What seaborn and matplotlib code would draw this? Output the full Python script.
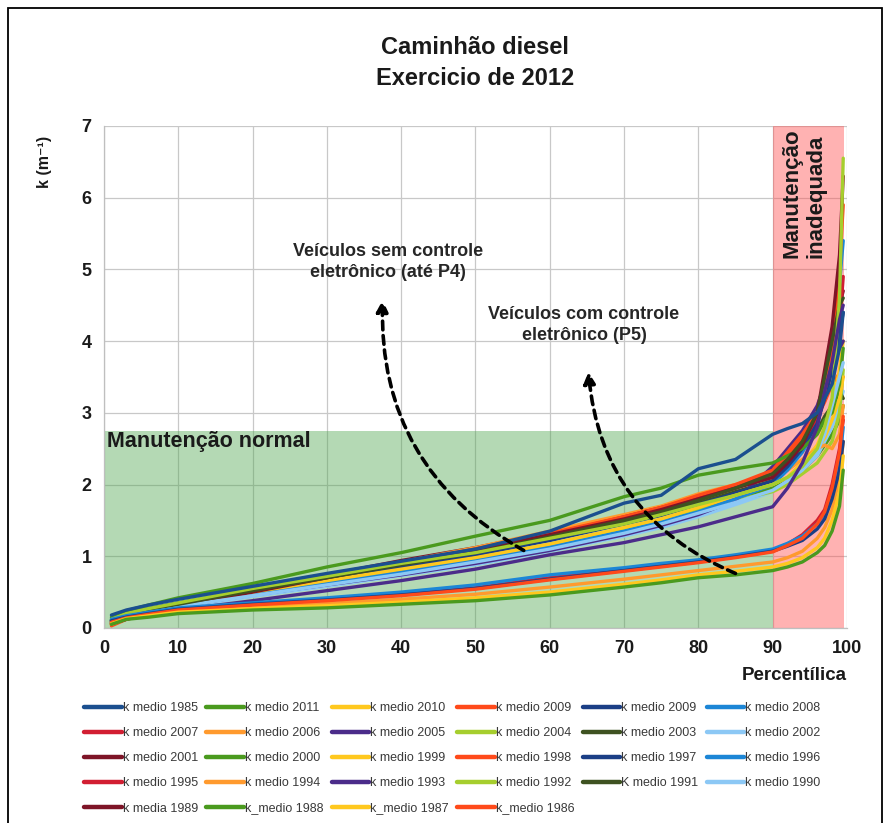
import matplotlib
matplotlib.use("Agg")
import matplotlib.pyplot as plt
from matplotlib.lines import Line2D
from matplotlib.patches import Rectangle
import seaborn as sns
import pandas as pd

# ---------------- data ----------------
pct = [1, 3, 6, 10, 20, 30, 40, 50, 60, 70, 75, 80, 85, 90, 92, 94, 96, 97, 98, 99, 99.5]

# Vehicles without electronic control (up to P4)
k_1985 = [0.18, 0.25, 0.32, 0.40, 0.58, 0.76, 0.93, 1.10, 1.35, 1.74, 1.85, 2.22, 2.35, 2.70, 2.78, 2.85, 3.00, 3.20, 3.40, 3.90, 4.40]
k_2004 = [0.12, 0.20, 0.27, 0.35, 0.55, 0.72, 0.90, 1.05, 1.25, 1.45, 1.58, 1.72, 1.85, 2.00, 2.10, 2.25, 2.50, 2.80, 3.20, 4.60, 6.55]
k_2003 = [0.10, 0.18, 0.26, 0.33, 0.52, 0.70, 0.88, 1.05, 1.27, 1.50, 1.62, 1.78, 1.95, 2.15, 2.35, 2.60, 3.00, 3.50, 4.00, 4.50, 4.60]
k_2002 = [0.08, 0.15, 0.22, 0.30, 0.45, 0.60, 0.75, 0.92, 1.10, 1.32, 1.45, 1.60, 1.75, 1.92, 2.05, 2.20, 2.45, 2.70, 3.10, 3.50, 3.70]
k_2001 = [0.06, 0.14, 0.22, 0.30, 0.50, 0.70, 0.90, 1.08, 1.30, 1.52, 1.65, 1.80, 1.95, 2.10, 2.30, 2.55, 3.00, 3.60, 4.20, 5.20, 6.30]
k_2000 = [0.15, 0.24, 0.32, 0.42, 0.62, 0.85, 1.05, 1.28, 1.50, 1.83, 1.95, 2.13, 2.22, 2.30, 2.40, 2.50, 2.70, 2.90, 3.00, 3.40, 3.90]
k_1999 = [0.10, 0.18, 0.25, 0.33, 0.50, 0.66, 0.82, 0.98, 1.17, 1.40, 1.52, 1.68, 1.85, 2.00, 2.10, 2.30, 2.50, 2.65, 2.90, 3.20, 3.50]
k_1998 = [0.05, 0.14, 0.22, 0.32, 0.50, 0.72, 0.90, 1.10, 1.32, 1.55, 1.68, 1.85, 2.00, 2.20, 2.45, 2.70, 3.00, 3.30, 3.80, 5.00, 5.90]
k_1997 = [0.12, 0.20, 0.27, 0.35, 0.52, 0.68, 0.85, 1.02, 1.22, 1.45, 1.57, 1.72, 1.88, 2.05, 2.25, 2.50, 2.85, 3.20, 3.60, 4.10, 4.40]
k_1996 = [0.10, 0.17, 0.24, 0.32, 0.48, 0.63, 0.78, 0.95, 1.13, 1.35, 1.48, 1.62, 1.80, 2.00, 2.20, 2.45, 2.80, 3.30, 3.90, 4.80, 5.40]
k_1995 = [0.08, 0.17, 0.25, 0.34, 0.53, 0.72, 0.90, 1.10, 1.30, 1.55, 1.68, 1.82, 1.98, 2.15, 2.35, 2.60, 2.90, 3.20, 3.60, 4.20, 4.90]
k_1994 = [0.05, 0.15, 0.23, 0.32, 0.52, 0.74, 0.92, 1.12, 1.35, 1.58, 1.70, 1.87, 2.00, 2.10, 2.20, 2.35, 2.50, 2.55, 2.50, 2.70, 3.10]
k_1993 = [0.10, 0.17, 0.23, 0.30, 0.46, 0.60, 0.74, 0.90, 1.08, 1.30, 1.43, 1.58, 1.78, 2.25, 2.50, 2.75, 3.10, 3.40, 3.70, 3.90, 4.00]
k_1992 = [0.09, 0.16, 0.23, 0.31, 0.49, 0.65, 0.82, 0.98, 1.16, 1.38, 1.50, 1.64, 1.78, 1.90, 2.00, 2.15, 2.30, 2.45, 2.60, 3.00, 3.60]
k_1991 = [0.07, 0.15, 0.23, 0.32, 0.50, 0.68, 0.86, 1.03, 1.24, 1.47, 1.60, 1.74, 1.90, 2.05, 2.25, 2.50, 2.75, 2.95, 3.10, 3.30, 3.20]
k_1990 = [0.06, 0.13, 0.20, 0.28, 0.44, 0.58, 0.73, 0.88, 1.07, 1.28, 1.40, 1.55, 1.72, 1.90, 2.05, 2.20, 2.40, 2.60, 2.80, 3.10, 3.30]
k_1989 = [0.06, 0.12, 0.19, 0.28, 0.50, 0.74, 0.94, 1.12, 1.33, 1.55, 1.68, 1.82, 1.96, 2.10, 2.25, 2.50, 2.90, 3.30, 3.90, 4.50, 4.70]
k_1988 = [0.07, 0.14, 0.21, 0.29, 0.47, 0.62, 0.78, 0.94, 1.12, 1.33, 1.45, 1.60, 1.78, 1.95, 2.05, 2.20, 2.40, 2.55, 2.70, 2.90, 3.10]
k_1987 = [0.05, 0.13, 0.20, 0.28, 0.46, 0.62, 0.79, 0.96, 1.15, 1.37, 1.50, 1.66, 1.82, 1.97, 2.10, 2.30, 2.55, 2.80, 3.10, 3.60, 4.00]
k_1986 = [0.03, 0.12, 0.20, 0.30, 0.50, 0.70, 0.88, 1.06, 1.28, 1.50, 1.63, 1.78, 1.95, 2.15, 2.40, 2.65, 2.95, 3.15, 3.40, 3.55, 3.50]
k_2005 = [0.10, 0.14, 0.18, 0.25, 0.38, 0.52, 0.66, 0.82, 1.02, 1.19, 1.30, 1.41, 1.55, 1.69, 1.95, 2.30, 2.80, 3.30, 3.70, 4.30, 4.50]

# Vehicles with electronic control (P5)
k_2011 = [0.05, 0.12, 0.15, 0.20, 0.25, 0.28, 0.33, 0.38, 0.46, 0.57, 0.63, 0.70, 0.74, 0.80, 0.85, 0.92, 1.05, 1.15, 1.35, 1.70, 2.20]
k_2010 = [0.06, 0.13, 0.17, 0.22, 0.27, 0.31, 0.36, 0.42, 0.50, 0.61, 0.67, 0.74, 0.79, 0.85, 0.90, 0.98, 1.12, 1.25, 1.50, 1.90, 2.40]
k_2009a = [0.08, 0.14, 0.19, 0.25, 0.32, 0.38, 0.45, 0.54, 0.67, 0.79, 0.85, 0.91, 0.98, 1.06, 1.15, 1.25, 1.45, 1.62, 1.95, 2.45, 2.95]
k_2009b = [0.10, 0.15, 0.20, 0.26, 0.33, 0.39, 0.46, 0.55, 0.68, 0.80, 0.86, 0.92, 0.99, 1.07, 1.14, 1.22, 1.38, 1.52, 1.80, 2.20, 2.60]
k_2008 = [0.12, 0.17, 0.22, 0.28, 0.35, 0.42, 0.50, 0.60, 0.74, 0.84, 0.90, 0.95, 1.02, 1.10, 1.18, 1.28, 1.45, 1.60, 1.90, 2.30, 2.80]
k_2007 = [0.09, 0.15, 0.20, 0.26, 0.33, 0.40, 0.47, 0.56, 0.70, 0.81, 0.87, 0.93, 1.00, 1.08, 1.17, 1.30, 1.50, 1.65, 2.00, 2.50, 2.90]
k_2006 = [0.07, 0.13, 0.18, 0.23, 0.29, 0.34, 0.40, 0.47, 0.57, 0.68, 0.74, 0.80, 0.86, 0.92, 0.98, 1.07, 1.25, 1.40, 1.65, 2.10, 2.60]

# legend order (row-major, as in the reference)
labels = ["k medio 1985", "k medio 2011", "k medio 2010", "k medio 2009", "k medio 2009", "k medio 2008",
          "k medio 2007", "k medio 2006", "k medio 2005", "k medio 2004", "k medio 2003", "k medio 2002",
          "k medio 2001", "k medio 2000", "k medio 1999", "k medio 1998", "k medio 1997", "k medio 1996",
          "k medio 1995", "k medio 1994", "k medio 1993", "k medio 1992", "K medio 1991", "k medio 1990",
          "k media 1989", "k_medio 1988", "k_medio 1987", "k_medio 1986"]
series = [k_1985, k_2011, k_2010, k_2009a, k_2009b, k_2008, k_2007, k_2006, k_2005, k_2004, k_2003, k_2002,
          k_2001, k_2000, k_1999, k_1998, k_1997, k_1996, k_1995, k_1994, k_1993, k_1992, k_1991, k_1990,
          k_1989, k_1988, k_1987, k_1986]
colors = ["#1B4F8F", "#4A9A1E", "#FFC81E", "#FF4A1A", "#1B3F86", "#1C86D6",
          "#D21E32", "#FF9A2E", "#4B2C8A", "#A6CE2E", "#3E5221", "#8CC8F5",
          "#7E1427", "#4A9A1E", "#FFC81E", "#FF4A1A", "#1B3F86", "#1C86D6",
          "#D21E32", "#FF9A2E", "#4B2C8A", "#A6CE2E", "#3E5221", "#8CC8F5",
          "#7E1427", "#4A9A1E", "#FFC81E", "#FF4A1A"]

xticks = list(range(0, 101, 10))
yticks = list(range(0, 8))

# ---------------- figure ----------------
sns.set_theme(style="white")
plt.rcParams['font.family'] = ['Liberation Sans', 'DejaVu Sans']

fig = plt.figure(figsize=(8.85, 8.23), dpi=100)
ax = fig.add_axes([0.1175, 0.237, 0.8395, 0.610])

rows = []
for i, (lab, vals) in enumerate(zip(labels, series)):
    sid = f"s{i:02d}"
    for p, v in zip(pct, vals):
        rows.append({"series": sid, "pct": p, "k": v})
df = pd.DataFrame(rows)
palette = {f"s{i:02d}": c for i, c in enumerate(colors)}

# shaded regions
ax.axvspan(0, 90, ymin=0, ymax=2.75 / 7, color=(0.30, 0.65, 0.30), alpha=0.42, lw=0, zorder=1)
ax.axvspan(90, 99.6, color=(1.0, 0.30, 0.30), alpha=0.43, lw=0, zorder=1)

# draw in reverse order so earlier legend entries sit on top
order = list(reversed([f"s{i:02d}" for i in range(len(labels))]))
sns.lineplot(data=df, x="pct", y="k", hue="series", hue_order=order, palette=palette,
             estimator=None, sort=False, legend=False, linewidth=2.4, ax=ax, zorder=3)

ax.set_xlim(0, 100)
ax.set_ylim(0, 7)
ax.set_xticks(xticks)
ax.set_yticks(yticks)
ax.grid(True, color="#c8c8c8", lw=0.9, zorder=0)
ax.set_axisbelow(True)
for s in ["top", "right"]:
    ax.spines[s].set_visible(False)
for s in ["left", "bottom"]:
    ax.spines[s].set_color("#bfbfbf")
    ax.spines[s].set_linewidth(0.9)
ax.tick_params(axis="both", which="both", length=5, width=0.9, color="#bfbfbf",
               labelsize=13, labelcolor="#1a1a1a", pad=4)
for t in ax.get_xticklabels() + ax.get_yticklabels():
    t.set_fontweight("bold")
ax.set_xlabel("")
ax.set_ylabel("")

# region texts
ax.text(0.4, 2.6, "Manutenção normal", fontsize=15.5, fontweight="bold", color="#1a1a1a",
        ha="left", va="center", zorder=5)
ax.text(94.2, 6.97, "Manutenção\ninadequada", fontsize=16, fontweight="bold", color="#1a1a1a",
        rotation=90, ha="center", va="top", multialignment="left", linespacing=1.2, zorder=5)

# annotation texts
ax.text(38.2, 5.1, "Veículos sem controle\neletrônico (até P4)", fontsize=13, fontweight="bold",
        color="#262626", ha="center", va="center", linespacing=1.3, zorder=5)
ax.text(64.6, 4.23, "Veículos com controle\neletrônico (P5)", fontsize=13, fontweight="bold",
        color="#262626", ha="center", va="center", linespacing=1.3, zorder=5)

arrow_kw = dict(arrowstyle="-|>,head_length=0.55,head_width=0.28", lw=2.6, color="black",
                linestyle=(0, (2.4, 1.6)), shrinkA=0, shrinkB=0)
ax.annotate("", xy=(37.5, 4.57), xytext=(56.5, 1.08),
            arrowprops=dict(connectionstyle="arc3,rad=-0.3", **arrow_kw), zorder=6)
ax.annotate("", xy=(65.2, 3.57), xytext=(85.0, 0.76),
            arrowprops=dict(connectionstyle="arc3,rad=-0.3", **arrow_kw), zorder=6)

# titles and axis labels
fig.text(475 / 885, 1 - 63 / 823, "Caminhão diesel\nExercicio de 2012", fontsize=17, fontweight="bold",
         color="#1a1a1a", ha="center", va="center", linespacing=1.45)
fig.text(45 / 885, 1 - 162 / 823, "k (m⁻¹)", fontsize=11.5, fontweight="bold", color="#1a1a1a",
         rotation=90, ha="center", va="center")
fig.text(847 / 885, 1 - 675 / 823, "Percentílica", fontsize=13.5, fontweight="bold", color="#1a1a1a",
         ha="right", va="center")

# legend (row-major order emulated for matplotlib's column-major fill)
handles = [Line2D([0], [0], color=c, lw=3.2) for c in colors]
n, ncol = len(labels), 6
nrows, nlarge = divmod(n, ncol)
rows_per_col = [nrows + 1] * nlarge + [nrows] * (ncol - nlarge)
idx = []
for c, r in enumerate(rows_per_col):
    idx += [c + ncol * j for j in range(r)]
leg = fig.legend([handles[i] for i in idx], [labels[i] for i in idx], ncol=ncol,
                 loc="upper left", bbox_to_anchor=(84 / 885, 1 - 702 / 823), frameon=False,
                 fontsize=9, handlelength=3.0, handletextpad=0.1, columnspacing=0.65,
                 labelspacing=1.05, borderaxespad=0, borderpad=0)
for t in leg.get_texts():
    t.set_color("#3a3a3a")

# outer frame
fig.patches.append(Rectangle((8 / 885, -0.05), 874 / 885, 1.05 - 8 / 823, transform=fig.transFigure,
                             fill=False, ec="black", lw=1.3))

fig.savefig("out.png", dpi=100)
